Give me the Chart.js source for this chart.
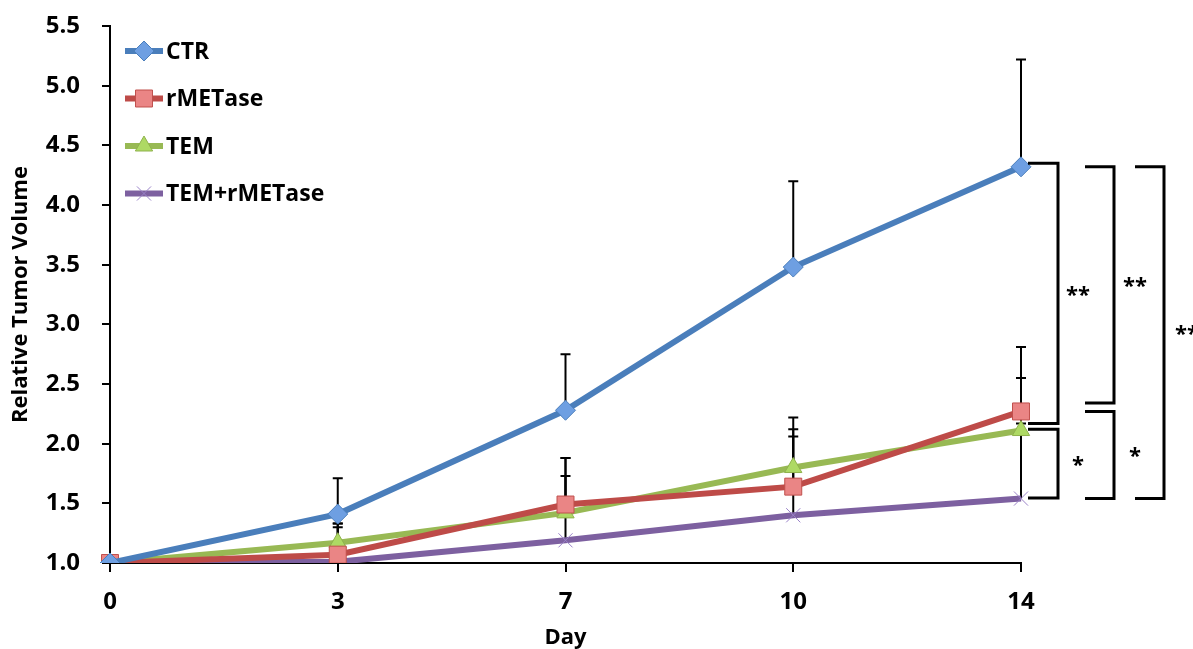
<!DOCTYPE html>
<html>
<head>
<meta charset="utf-8">
<script src="https://cdn.jsdelivr.net/npm/chart.js@4.4.1/dist/chart.umd.min.js"></script>
<style>
  html, body { margin: 0; padding: 0; background: #fff; }
  #wrap { width: 1193px; height: 649px; }
</style>
</head>
<body>
<div id="wrap"><canvas id="tumorChart" width="1193" height="649"></canvas></div>
<script>
// ==================== DATOS ====================
const days = ['0', '3', '7', '10', '14'];

const ctr      = [1.00, 1.41, 2.28, 3.48, 4.32];
const rmetase  = [1.00, 1.07, 1.49, 1.64, 2.27];
const tem      = [1.00, 1.17, 1.42, 1.80, 2.11];
const temRmet  = [1.00, 1.01, 1.19, 1.40, 1.54];

// error bars (solo hacia arriba)
const ctrErr     = [0, 0.30, 0.47, 0.72, 0.90];
const rmetaseErr = [0, 0.26, 0.39, 0.58, 0.54];
const temErr     = [0, 0.16, 0.46, 0.32, 0.44];
const temRmetErr = [0, 0.29, 0.54, 0.66, 0.63];

const yTicks = [1.0, 1.5, 2.0, 2.5, 3.0, 3.5, 4.0, 4.5, 5.0, 5.5];

// corchetes de significancia: [desde, hasta, texto, columna]
const brackets = [
    [4.35, 2.17, '**', 0],
    [2.12, 1.545, '*', 0],
    [4.32, 2.34, '**', 1],
    [2.27, 1.54, '*', 1],
    [4.32, 1.54, '**', 2]
];

const FONT = '"Open Sans", "Liberation Sans", sans-serif';

// ==================== PLUGINS ====================
const errorBarsPlugin = {
    id: 'errorBars',
    beforeDatasetsDraw(chart) {
        const ctx = chart.ctx;
        const yScale = chart.scales.y;
        ctx.save();
        ctx.strokeStyle = '#000';
        ctx.lineWidth = 2;
        chart.data.datasets.forEach((ds, i) => {
            const meta = chart.getDatasetMeta(i);
            meta.data.forEach((pt, j) => {
                const err = ds.errors[j];
                if (!err) return;
                const yTop = yScale.getPixelForValue(ds.data[j] + err);
                ctx.beginPath();
                ctx.moveTo(pt.x, pt.y);
                ctx.lineTo(pt.x, yTop);
                ctx.moveTo(pt.x - 5, yTop);
                ctx.lineTo(pt.x + 5, yTop);
                ctx.stroke();
            });
        });
        ctx.restore();
    }
};

const bracketsPlugin = {
    id: 'sigBrackets',
    afterDatasetsDraw(chart) {
        const ctx = chart.ctx;
        const yScale = chart.scales.y;
        const xLast = chart.scales.x.getPixelForValue(days.length - 1);
        const cols = [[7, 37, 57], [64, 93, 114], [114, 143, 166]];
        ctx.save();
        ctx.strokeStyle = '#000';
        ctx.lineWidth = 3;
        ctx.fillStyle = '#000';
        ctx.font = 'bold 22px ' + FONT;
        ctx.textAlign = 'center';
        ctx.textBaseline = 'middle';
        brackets.forEach(b => {
            const c = cols[b[3]];
            const y1 = yScale.getPixelForValue(b[0]);
            const y2 = yScale.getPixelForValue(b[1]);
            ctx.beginPath();
            ctx.moveTo(xLast + c[0], y1);
            ctx.lineTo(xLast + c[1], y1);
            ctx.lineTo(xLast + c[1], y2);
            ctx.lineTo(xLast + c[0], y2);
            ctx.stroke();
            ctx.fillText(b[2], xLast + c[2], (y1 + y2) / 2 + 2);
        });
        ctx.restore();
    }
};

const legendPlugin = {
    id: 'insideLegend',
    afterDraw(chart) {
        const ctx = chart.ctx;
        const area = chart.chartArea;
        ctx.save();
        ctx.font = 'bold 23px ' + FONT;
        ctx.textBaseline = 'middle';
        ctx.fillStyle = '#000';
        chart.data.datasets.forEach((ds, i) => {
            const y = area.top + 25 + i * 47.5;
            const x0 = area.left + 15;
            ctx.strokeStyle = ds.borderColor;
            ctx.lineWidth = 6;
            ctx.beginPath();
            ctx.moveTo(x0, y);
            ctx.lineTo(x0 + 38, y);
            ctx.stroke();
            ctx.lineWidth = ds.pointBorderWidth;
            ctx.strokeStyle = ds.pointBorderColor;
            ctx.fillStyle = ds.pointBackgroundColor;
            Chart.helpers.drawPoint(ctx, {
                pointStyle: ds.pointStyle,
                radius: ds.pointRadius,
                borderWidth: ds.pointBorderWidth
            }, x0 + 19, y);
            ctx.fillStyle = '#000';
            ctx.fillText(ds.label, x0 + 41, y + 1);
        });
        ctx.restore();
    }
};

// ==================== GRÁFICO ====================
function serie(label, data, errors, color, style, fill, border, radius) {
    return {
        label: label,
        data: data,
        errors: errors,
        borderColor: color,
        borderWidth: 6,
        pointStyle: style,
        pointRadius: radius,
        pointBackgroundColor: fill,
        pointBorderColor: border,
        pointBorderWidth: 1,
        tension: 0
    };
}

const ctx = document.getElementById('tumorChart');
new Chart(ctx, {
    type: 'line',
    data: {
        labels: days,
        datasets: [
            serie('CTR', ctr, ctrErr, '#4a7ebb', 'rectRot', '#6e9fe2', '#4a7ebb', 10),
            serie('rMETase', rmetase, rmetaseErr, '#be4b48', 'rect', '#ea8585', '#c0504d', 12),
            serie('TEM', tem, temErr, '#98b954', 'triangle', '#aed964', '#8fb24c', 10),
            serie('TEM+rMETase', temRmet, temRmetErr, '#7d60a0', 'crossRot', '#9a82c8', '#9a82c8', 10)
        ]
    },
    options: {
        responsive: false,
        animation: false,
        layout: { padding: { top: 26, right: 172, left: 0, bottom: 0 } },
        plugins: {
            legend: { display: false },
            tooltip: { enabled: false }
        },
        scales: {
            x: {
                offset: false,
                grid: { display: true, drawOnChartArea: false, color: '#000', lineWidth: 2, tickLength: 9 },
                border: { color: '#000', width: 2 },
                ticks: { color: '#000', padding: 16, font: { family: FONT, size: 24, weight: 'bold' }, maxRotation: 0 },
                title: { display: true, text: 'Day', color: '#000', padding: { top: 0, bottom: 0 }, font: { family: FONT, size: 22, weight: 'bold', lineHeight: 1 } },
                afterFit: s => { s.height = 86; s.paddingLeft = 0; s.paddingRight = 0; }
            },
            y: {
                min: 1,
                max: 5.5,
                afterBuildTicks: s => { s.ticks = yTicks.map(v => ({ value: v })); },
                grid: { display: true, drawOnChartArea: false, color: '#000', lineWidth: 2, tickLength: 8 },
                border: { color: '#000', width: 2 },
                ticks: { color: '#000', padding: 22, font: { family: FONT, size: 24, weight: 'bold' }, callback: v => Number(v).toFixed(1) },
                title: { display: true, text: 'Relative Tumor Volume', color: '#000', padding: { top: 8, bottom: 0 }, font: { family: FONT, size: 22, weight: 'bold' } },
                afterFit: s => { s.width = 110; s.paddingTop = 0; s.paddingBottom = 0; }
            }
        }
    },
    plugins: [errorBarsPlugin, bracketsPlugin, legendPlugin]
});
</script>
</body>
</html>
